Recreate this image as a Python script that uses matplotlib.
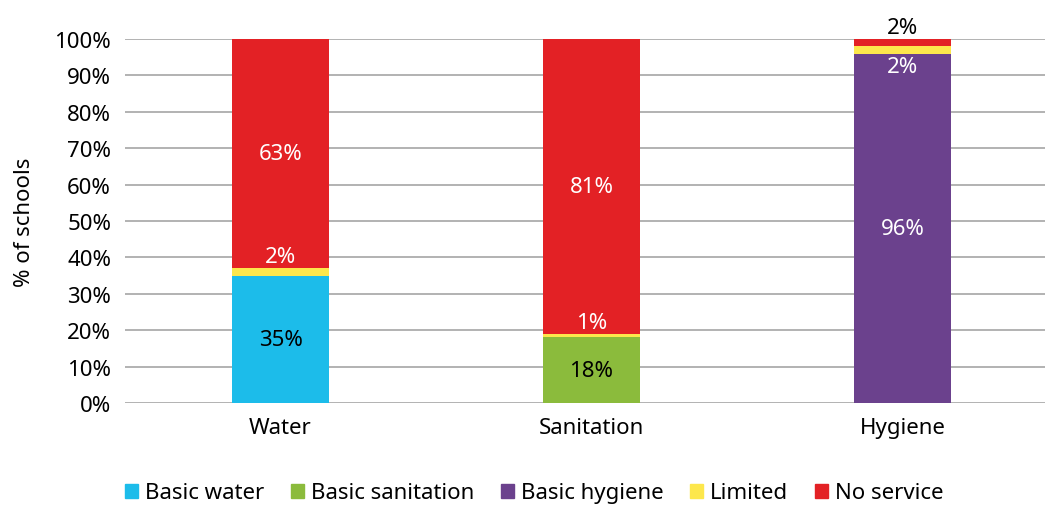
import numpy as np
import matplotlib
matplotlib.use("Agg")
import matplotlib.pyplot as plt
from matplotlib.patches import Patch

plt.rcParams['font.family'] = ['Noto Sans', 'DejaVu Sans']

categories = ["Water", "Sanitation", "Hygiene"]
basic = [35, 18, 96]
limited = [2, 1, 2]
no_service = [63, 81, 2]
basic_names = ["Basic water", "Basic sanitation", "Basic hygiene"]

basic_cols = ["#1CBCEA", "#8BBB3C", "#6B418D"]
col_lim = "#FDE74C"
col_no = "#E32125"

fig = plt.figure(figsize=(10.45, 5.06), dpi=100)
ax = fig.add_axes([125/1045, 102/506, 920/1045, 364/506])

x = np.arange(len(categories))
w = 0.315
basic = np.array(basic)
limited = np.array(limited)
no_service = np.array(no_service)

ax.bar(x, basic, w, color=basic_cols, zorder=2)
ax.bar(x, limited, w, bottom=basic, color=col_lim, zorder=2)
ax.bar(x, no_service, w, bottom=basic + limited, color=col_no, zorder=2)

fs = 16
for i in range(len(x)):
    # basic share
    ax.text(x[i], basic[i] / 2, f"{basic[i]}%", ha="center", va="center",
            fontsize=fs, color="white" if i == 2 else "black", zorder=3)
    top_lim = basic[i] + limited[i]
    if no_service[i] > 10:
        ax.text(x[i], top_lim + 0.3, f"{limited[i]}%", ha="center", va="bottom",
                fontsize=fs, color="white", zorder=3)
        ax.text(x[i], top_lim + no_service[i] / 2, f"{no_service[i]}%", ha="center",
                va="center", fontsize=fs, color="white", zorder=3)
    else:
        # small segments: limited label inside basic, no service label above
        ax.text(x[i], basic[i] - 0.6, f"{limited[i]}%", ha="center", va="top",
                fontsize=fs, color="white", zorder=3)
        ax.text(x[i], 100.3, f"{no_service[i]}%", ha="center", va="bottom",
                fontsize=fs, color="black", zorder=3)

ax.set_ylim(0, 100)
ax.set_xlim(-0.5, 2.5 - 13/311)
ax.set_yticks(np.arange(0, 101, 10))
ax.set_yticklabels([f"{v}%" for v in range(0, 101, 10)], fontsize=fs)
ax.set_xticks(x)
ax.set_xticklabels(categories, fontsize=fs)
ax.tick_params(length=0, pad=10)
ax.yaxis.grid(True, color="#A6A6A6", linewidth=1.2, zorder=0)
ax.set_axisbelow(True)
for s in ax.spines.values():
    s.set_visible(False)
ax.set_ylabel("% of schools", fontsize=fs, labelpad=14)

handles = [Patch(color=c) for c in basic_cols] + [Patch(color=col_lim), Patch(color=col_no)]
labels = basic_names + ["Limited", "No service"]
fig.legend(handles, labels, loc="center", bbox_to_anchor=(534/1045, 12/506), ncol=5,
           frameon=False, fontsize=fs, handlelength=0.6, handleheight=0.6,
           handletextpad=0.3, columnspacing=1.2)

fig.savefig("out.png", dpi=100)
